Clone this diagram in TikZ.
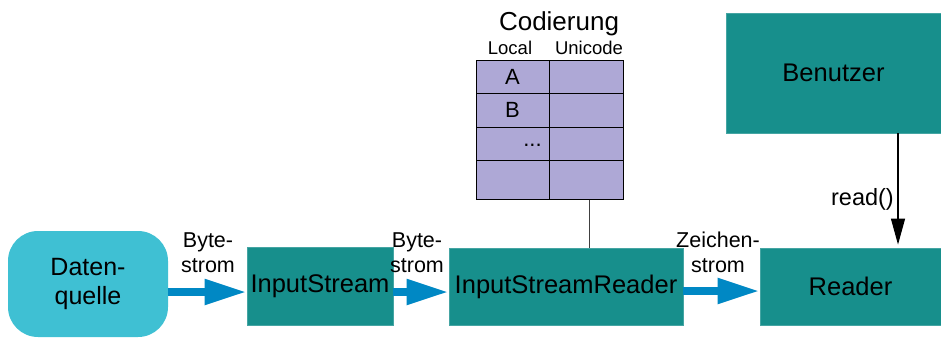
\documentclass[tikz,border=0pt]{standalone}
\usepackage{fontspec}
\setmainfont{Liberation Sans}
\usetikzlibrary{arrows.meta}
\definecolor{tealbox}{HTML}{178F8C}
\definecolor{cyanbox}{HTML}{3FC0D3}
\definecolor{lavcell}{HTML}{AEA8D6}
\definecolor{flowblue}{HTML}{0088C4}
\tikzset{
  block/.style={rectangle, fill=tealbox, draw=tealbox!80!white, line width=0.8pt, inner sep=0pt,
    font=\fontsize{25.5}{28}\selectfont},
  source/.style={rectangle, rounded corners=30pt, fill=cyanbox, inner sep=0pt, align=center,
    font=\fontsize{25}{29}\selectfont},
  cell/.style={rectangle, fill=lavcell, draw=black, line width=1pt, inner sep=0pt},
  flowlabel/.style={align=center, inner sep=0pt, font=\fontsize{21.5}{25}\selectfont},
  flow/.style={draw=flowblue, line width=8pt, -{Triangle[length=42pt,width=24pt]}},
  calltip/.style={draw=black, line width=1.2pt, -{Triangle[length=26pt,width=14pt]}},
}
\begin{document}
\begin{tikzpicture}[x=1pt,y=-1pt]
  \useasboundingbox (0,0) rectangle (941,338);

  % main processing chain
  \node[source, minimum width=160pt, minimum height=106pt] (dq) at (88,284) {Daten-\\quelle};
  \node[block, minimum width=146pt, minimum height=78pt] (is) at (320,286) {InputStream};
  \node[block, minimum width=234pt, minimum height=77pt] (isr) at (566,286.5) {InputStreamReader};
  \node[block, minimum width=181pt, minimum height=77pt] (rd) at (850.5,286.5) {Reader};
  \node[block, minimum width=215pt, minimum height=120pt] (user) at (833.5,73) {Benutzer};

  % encoding table
  \node[cell, minimum width=73pt, minimum height=33pt] (a1) at (512.5,76.5) {};
  \node[cell, minimum width=74pt, minimum height=33pt] (a2) at (586,76.5) {};
  \node[cell, minimum width=73pt, minimum height=34pt] (b1) at (512.5,110) {};
  \node[cell, minimum width=74pt, minimum height=34pt] (b2) at (586,110) {};
  \node[cell, minimum width=73pt, minimum height=33pt] (c1) at (512.5,143.5) {};
  \node[cell, minimum width=74pt, minimum height=33pt] (c2) at (586,143.5) {};
  \node[cell, minimum width=73pt, minimum height=39pt] (d1) at (512.5,179.5) {};
  \node[cell, minimum width=74pt, minimum height=39pt] (d2) at (586,179.5) {};
  \node[font=\fontsize{22}{24}\selectfont] at (a1) {A};
  \node[font=\fontsize{22}{24}\selectfont] at (b1) {B};
  \node[font=\fontsize{22}{24}\selectfont] at ([xshift=20pt,yshift=-2pt]c1.center) {...};
  \node[font=\fontsize{26}{28}\selectfont] (title) at (559,24) {Codierung};
  \node[font=\fontsize{18.5}{20}\selectfont] (lcl) at (510,48) {Local};
  \node[font=\fontsize{18.5}{20}\selectfont] (uni) at (589,48) {Unicode};

  % table attached to the reader
  \draw[line width=1pt, black!75] ([xshift=3pt]d2.south) -- ([xshift=3pt]d2.south |- isr.north);

  % data flows
  \draw[flow] ([yshift=-8pt]dq.east) -- ([yshift=-6pt]is.west);
  \draw[flow] ([yshift=-6pt]is.east) -- ([yshift=-5.5pt]isr.west);
  \draw[flow] ([yshift=-4.5pt]isr.east) -- ([yshift=-4.5pt]rd.west);
  \node[flowlabel] (l1) at (208,253) {Byte-\\strom};
  \node[flowlabel] (l2) at (417,253) {Byte-\\strom};
  \node[flowlabel] (l3) at (718,252) {Zeichen-\\strom};

  % method call
  \coordinate (callx) at (898,0);
  \draw[calltip] (user.south -| callx) -- ([yshift=3pt]rd.north -| callx);
  \node[font=\fontsize{23.5}{26}\selectfont, anchor=east, inner sep=0pt] (rcall) at (894,199) {read()};
\end{tikzpicture}
\end{document}
